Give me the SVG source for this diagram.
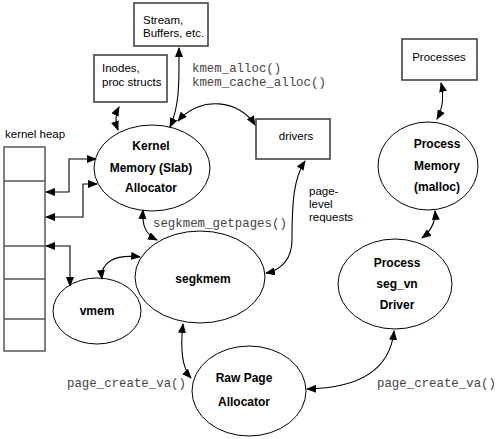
<svg xmlns="http://www.w3.org/2000/svg" width="500" height="439" viewBox="0 0 500 439">
<defs>
<marker id="ah" markerUnits="userSpaceOnUse" markerWidth="10" markerHeight="8" refX="9" refY="4" orient="auto-start-reverse" viewBox="0 0 10 8">
<path d="M0,0 L10,4 L0,8 Z" fill="#000"/>
</marker>
<style>
.box{fill:#fff;stroke:#444;stroke-width:1.6}
.ell{fill:#fff;stroke:#000;stroke-width:1}
.lbl{font-family:"Liberation Sans",Arial,sans-serif;font-size:11.5px;fill:#000}
.bold{font-family:"Liberation Sans",Arial,sans-serif;font-size:12px;font-weight:bold;fill:#000;text-anchor:middle}
.mono{font-family:"Liberation Mono","Courier New",monospace;font-size:12.4px;fill:#444}
.con{fill:none;stroke:#000;stroke-width:1.1;marker-start:url(#ah);marker-end:url(#ah)}
.heap{fill:#fff;stroke:#555;stroke-width:1.5}
</style>
</defs>
<rect width="500" height="439" fill="#fff"/>

<g id="heap">
<rect class="heap" x="4" y="147" width="41" height="204"/>
<line class="heap" x1="4" y1="181" x2="45" y2="181"/>
<line class="heap" x1="4" y1="246" x2="45" y2="246"/>
<line class="heap" x1="4" y1="279" x2="45" y2="279"/>
<line class="heap" x1="4" y1="319" x2="45" y2="319"/>
<text class="lbl" x="5" y="138">kernel heap</text>
</g>

<g id="stream">
<rect class="box" x="134" y="3" width="74" height="43"/>
<text class="lbl" x="143" y="24">Stream,</text>
<text class="lbl" x="143" y="37">Buffers, etc.</text>
</g>

<g id="inodes">
<rect class="box" x="94" y="55" width="73" height="47"/>
<text class="lbl" x="102" y="72">Inodes,</text>
<text class="lbl" x="102" y="86">proc structs</text>
</g>

<g id="drivers">
<rect class="box" x="256" y="119" width="74" height="40"/>
<text class="lbl" x="296" y="140" text-anchor="middle">drivers</text>
</g>

<g id="processes">
<rect class="box" x="402" y="39" width="75" height="41"/>
<text class="lbl" x="439" y="61" text-anchor="middle">Processes</text>
</g>

<g id="kernel">
<ellipse class="ell" cx="152" cy="168" rx="58" ry="43"/>
<text class="bold" x="151" y="150">Kernel</text>
<text class="bold" x="151" y="172">Memory (Slab)</text>
<text class="bold" x="151" y="192">Allocator</text>
</g>

<g id="procmem">
<ellipse class="ell" cx="428" cy="166" rx="50" ry="44"/>
<text class="bold" x="437" y="148">Process</text>
<text class="bold" x="437" y="170">Memory</text>
<text class="bold" x="437" y="191">(malloc)</text>
</g>

<g id="segvn">
<ellipse class="ell" cx="395" cy="284" rx="57" ry="45"/>
<text class="bold" x="397" y="267">Process</text>
<text class="bold" x="397" y="288">seg_vn</text>
<text class="bold" x="397" y="309">Driver</text>
</g>

<g id="segkmem">
<ellipse class="ell" cx="200" cy="277" rx="65" ry="46"/>
<text class="bold" x="203" y="283">segkmem</text>
</g>

<g id="vmem">
<ellipse class="ell" cx="97" cy="311" rx="44" ry="33"/>
<text class="bold" x="97" y="315">vmem</text>
</g>

<g id="rawpage">
<ellipse class="ell" cx="249" cy="391" rx="57" ry="45"/>
<text class="bold" x="244" y="382">Raw Page</text>
<text class="bold" x="244" y="406">Allocator</text>
</g>

<g id="labels">
<text class="mono" x="192" y="72">kmem_alloc()</text>
<text class="mono" x="192" y="86">kmem_cache_alloc()</text>
<text class="mono" x="153" y="227">segkmem_getpages()</text>
<text class="mono" x="67" y="387">page_create_va()</text>
<text class="mono" x="377" y="387">page_create_va()</text>
<text class="lbl" x="309" y="195">page-</text>
<text class="lbl" x="309" y="208">level</text>
<text class="lbl" x="309" y="221">requests</text>
</g>

<g id="connectors">
<path class="con" d="M119,107 C115,115 115,122 118,130"/>
<path class="con" d="M179,48 C179,80 180,105 170,127"/>
<path class="con" d="M178,121 C200,95 240,100 255,125"/>
<path class="con" d="M305,161 C294,178 292,200 292,240 C292,258 282,270 266,273"/>
<path class="con" d="M441,83 C444,95 443,108 437,119"/>
<path class="con" d="M435,211 C436,222 430,232 422,238"/>
<path class="con" d="M307,389 C360,388 390,370 394,331"/>
<path class="con" d="M183,324 C180,350 182,368 191,378"/>
<path class="con" d="M143,210 C142,225 145,234 157,240"/>
<path class="con" d="M102,279 C100,262 115,254 140,257"/>
<path class="con" d="M46,246 H70 V286"/>
<path class="con" d="M46,192 H69 V159 H96"/>
<path class="con" d="M46,217 H83 V184 H97"/>
</g>
</svg>
